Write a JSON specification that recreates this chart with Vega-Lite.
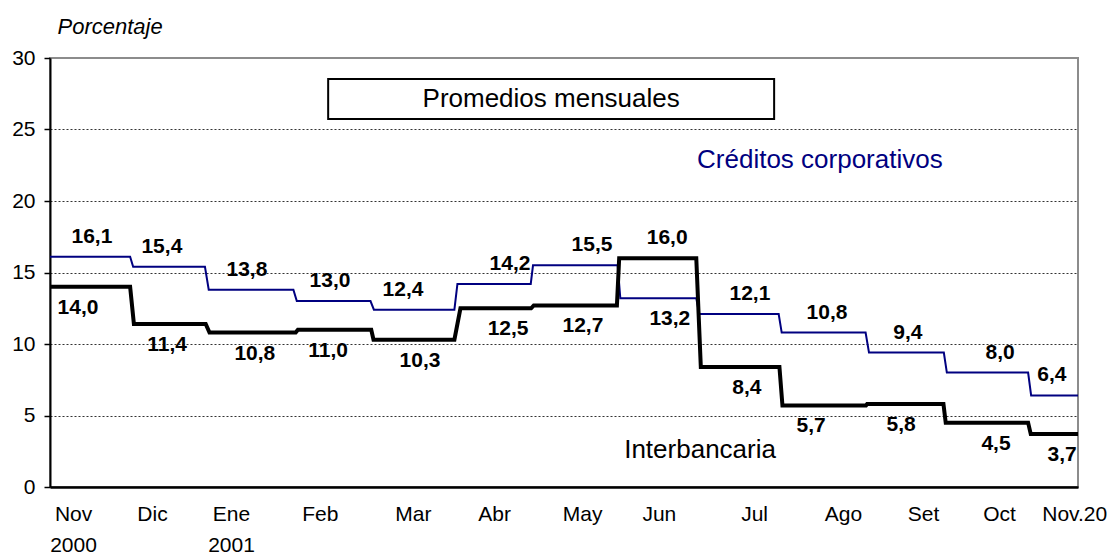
{
  "$schema": "https://vega.github.io/schema/vega-lite/v6.json",
  "width": 1028,
  "height": 429,
  "autosize": {"type": "none"},
  "padding": {"left": 50, "top": 58, "right": 32, "bottom": 69},
  "background": "white",
  "config": {
    "font": "Liberation Sans",
    "view": {"stroke": "#8c8c8c", "strokeWidth": 2},
    "locale": {"number": {"decimal": ",", "thousands": ".", "grouping": [3], "currency": ["", ""]}}
  },
  "datasets": {
    "lineas": [
      {"serie": "Créditos corporativos", "t": 0, "tasa": 16.1},
      {"serie": "Créditos corporativos", "t": 21.2, "tasa": 16.1},
      {"serie": "Créditos corporativos", "t": 22.0, "tasa": 15.4},
      {"serie": "Créditos corporativos", "t": 41.0, "tasa": 15.4},
      {"serie": "Créditos corporativos", "t": 42.0, "tasa": 13.8},
      {"serie": "Créditos corporativos", "t": 64.4, "tasa": 13.8},
      {"serie": "Créditos corporativos", "t": 65.3, "tasa": 13.0},
      {"serie": "Créditos corporativos", "t": 84.8, "tasa": 13.0},
      {"serie": "Créditos corporativos", "t": 85.7, "tasa": 12.4},
      {"serie": "Créditos corporativos", "t": 107.0, "tasa": 12.4},
      {"serie": "Créditos corporativos", "t": 107.8, "tasa": 14.2},
      {"serie": "Créditos corporativos", "t": 127.2, "tasa": 14.2},
      {"serie": "Créditos corporativos", "t": 127.8, "tasa": 15.5},
      {"serie": "Créditos corporativos", "t": 150.2, "tasa": 15.5},
      {"serie": "Créditos corporativos", "t": 150.9, "tasa": 13.2},
      {"serie": "Créditos corporativos", "t": 171.0, "tasa": 13.2},
      {"serie": "Créditos corporativos", "t": 171.8, "tasa": 12.1},
      {"serie": "Créditos corporativos", "t": 192.8, "tasa": 12.1},
      {"serie": "Créditos corporativos", "t": 193.6, "tasa": 10.8},
      {"serie": "Créditos corporativos", "t": 215.8, "tasa": 10.8},
      {"serie": "Créditos corporativos", "t": 216.7, "tasa": 9.4},
      {"serie": "Créditos corporativos", "t": 236.5, "tasa": 9.4},
      {"serie": "Créditos corporativos", "t": 237.3, "tasa": 8.0},
      {"serie": "Créditos corporativos", "t": 258.8, "tasa": 8.0},
      {"serie": "Créditos corporativos", "t": 259.6, "tasa": 6.4},
      {"serie": "Créditos corporativos", "t": 272, "tasa": 6.4},
      {"serie": "Interbancaria", "t": 0, "tasa": 14.0},
      {"serie": "Interbancaria", "t": 21.2, "tasa": 14.0},
      {"serie": "Interbancaria", "t": 22.2, "tasa": 11.4},
      {"serie": "Interbancaria", "t": 41.2, "tasa": 11.4},
      {"serie": "Interbancaria", "t": 42.2, "tasa": 10.8},
      {"serie": "Interbancaria", "t": 65.0, "tasa": 10.8},
      {"serie": "Interbancaria", "t": 65.6, "tasa": 11.0},
      {"serie": "Interbancaria", "t": 85.0, "tasa": 11.0},
      {"serie": "Interbancaria", "t": 85.6, "tasa": 10.3},
      {"serie": "Interbancaria", "t": 107.0, "tasa": 10.3},
      {"serie": "Interbancaria", "t": 108.6, "tasa": 12.5},
      {"serie": "Interbancaria", "t": 127.3, "tasa": 12.5},
      {"serie": "Interbancaria", "t": 128.0, "tasa": 12.7},
      {"serie": "Interbancaria", "t": 150.0, "tasa": 12.7},
      {"serie": "Interbancaria", "t": 150.6, "tasa": 16.0},
      {"serie": "Interbancaria", "t": 171.0, "tasa": 16.0},
      {"serie": "Interbancaria", "t": 172.2, "tasa": 8.4},
      {"serie": "Interbancaria", "t": 193.0, "tasa": 8.4},
      {"serie": "Interbancaria", "t": 193.8, "tasa": 5.7},
      {"serie": "Interbancaria", "t": 215.9, "tasa": 5.7},
      {"serie": "Interbancaria", "t": 216.2, "tasa": 5.8},
      {"serie": "Interbancaria", "t": 236.4, "tasa": 5.8},
      {"serie": "Interbancaria", "t": 237.0, "tasa": 4.5},
      {"serie": "Interbancaria", "t": 258.8, "tasa": 4.5},
      {"serie": "Interbancaria", "t": 259.5, "tasa": 3.7},
      {"serie": "Interbancaria", "t": 272, "tasa": 3.7}
    ],
    "etiquetas": [
      {"serie": "Créditos corporativos", "mes": "Nov", "t": 11.1, "tasa": 16.1, "lado": "arriba"},
      {"serie": "Créditos corporativos", "mes": "Dic", "t": 29.6, "tasa": 15.4, "lado": "arriba"},
      {"serie": "Créditos corporativos", "mes": "Ene", "t": 52.1, "tasa": 13.8, "lado": "arriba"},
      {"serie": "Créditos corporativos", "mes": "Feb", "t": 74.1, "tasa": 13.0, "lado": "arriba"},
      {"serie": "Créditos corporativos", "mes": "Mar", "t": 93.4, "tasa": 12.4, "lado": "arriba"},
      {"serie": "Créditos corporativos", "mes": "Abr", "t": 121.7, "tasa": 14.2, "lado": "arriba"},
      {"serie": "Créditos corporativos", "mes": "May", "t": 143.4, "tasa": 15.5, "lado": "arriba"},
      {"serie": "Créditos corporativos", "mes": "Jun", "t": 164.0, "tasa": 13.2, "lado": "abajo"},
      {"serie": "Créditos corporativos", "mes": "Jul", "t": 185.2, "tasa": 12.1, "lado": "arriba"},
      {"serie": "Créditos corporativos", "mes": "Ago", "t": 205.6, "tasa": 10.8, "lado": "arriba"},
      {"serie": "Créditos corporativos", "mes": "Set", "t": 227.0, "tasa": 9.4, "lado": "arriba"},
      {"serie": "Créditos corporativos", "mes": "Oct", "t": 251.4, "tasa": 8.0, "lado": "arriba"},
      {"serie": "Créditos corporativos", "mes": "Nov", "t": 265.1, "tasa": 6.4, "lado": "arriba"},
      {"serie": "Interbancaria", "mes": "Nov", "t": 7.4, "tasa": 14.0, "lado": "abajo"},
      {"serie": "Interbancaria", "mes": "Dic", "t": 31.0, "tasa": 11.4, "lado": "abajo"},
      {"serie": "Interbancaria", "mes": "Ene", "t": 54.2, "tasa": 10.8, "lado": "abajo"},
      {"serie": "Interbancaria", "mes": "Feb", "t": 73.6, "tasa": 11.0, "lado": "abajo"},
      {"serie": "Interbancaria", "mes": "Mar", "t": 97.9, "tasa": 10.3, "lado": "abajo"},
      {"serie": "Interbancaria", "mes": "Abr", "t": 121.2, "tasa": 12.5, "lado": "abajo"},
      {"serie": "Interbancaria", "mes": "May", "t": 141.0, "tasa": 12.7, "lado": "abajo"},
      {"serie": "Interbancaria", "mes": "Jun", "t": 163.3, "tasa": 16.0, "lado": "arriba"},
      {"serie": "Interbancaria", "mes": "Jul", "t": 184.4, "tasa": 8.4, "lado": "abajo"},
      {"serie": "Interbancaria", "mes": "Ago", "t": 201.4, "tasa": 5.7, "lado": "abajo"},
      {"serie": "Interbancaria", "mes": "Set", "t": 225.2, "tasa": 5.8, "lado": "abajo"},
      {"serie": "Interbancaria", "mes": "Oct", "t": 250.3, "tasa": 4.5, "lado": "abajo"},
      {"serie": "Interbancaria", "mes": "Nov", "t": 267.8, "tasa": 3.7, "lado": "abajo"}
    ]
  },
  "layer": [
    {
      "encoding": {
        "x": {
          "field": "t",
          "type": "quantitative",
          "scale": {"domain": [0, 272], "nice": false, "zero": false},
          "axis": {
            "title": null,
            "values": [6.1, 27, 47.9, 71.4, 96, 117.5, 140.8, 161.1, 186.3, 209.8, 231, 251.1, 271],
            "labelExpr": "[['Nov','2000'],'Dic',['Ene','2001'],'Feb','Mar','Abr','May','Jun','Jul','Ago','Set','Oct','Nov.20'][indexof([6.1, 27, 47.9, 71.4, 96, 117.5, 140.8, 161.1, 186.3, 209.8, 231, 251.1, 271], datum.value)]",
            "grid": false,
            "ticks": false,
            "domainColor": "#000000",
            "domainWidth": 2.5,
            "labelFontSize": 21,
            "labelColor": "#000000",
            "labelPadding": 16,
            "labelBaseline": "top",
            "labelLineHeight": 31,
            "labelFlush": false,
            "labelOverlap": false,
            "labelBound": false
          }
        },
        "y": {
          "field": "tasa",
          "type": "quantitative",
          "scale": {"domain": [0, 30], "nice": false},
          "axis": {
            "title": "Porcentaje",
            "titleAngle": 0,
            "titleAlign": "left",
            "titleBaseline": "alphabetic",
            "titleX": 7,
            "titleY": -25,
            "titleFontSize": 22,
            "titleFontStyle": "italic",
            "titleFontWeight": "normal",
            "titleColor": "#000000",
            "values": [0, 5, 10, 15, 20, 25, 30],
            "grid": true,
            "gridColor": "#000000",
            "gridDash": [2, 2],
            "gridWidth": 1,
            "gridOpacity": {"condition": {"test": "datum.value === 0 || datum.value === 30", "value": 0}, "value": 0.8},
            "tickSize": 6,
            "tickColor": "#000000",
            "tickWidth": 1.5,
            "domainColor": "#000000",
            "domainWidth": 2,
            "labelFontSize": 21,
            "labelColor": "#000000",
            "labelPadding": 9,
            "labelFlush": false
          }
        }
      },
      "layer": [
        {
          "data": {"name": "lineas"},
          "transform": [{"filter": "datum.serie === 'Créditos corporativos'"}],
          "mark": {"type": "line", "color": "#000080", "strokeWidth": 2, "interpolate": "linear"}
        },
        {
          "data": {"name": "lineas"},
          "transform": [{"filter": "datum.serie === 'Interbancaria'"}],
          "mark": {"type": "line", "color": "#000000", "strokeWidth": 4, "interpolate": "linear"}
        },
        {
          "data": {"name": "etiquetas"},
          "transform": [{"filter": "datum.lado === 'arriba'"}],
          "mark": {"type": "text", "fontSize": 21, "fontWeight": "bold", "color": "#000000", "baseline": "middle", "align": "center", "dy": -20},
          "encoding": {"text": {"field": "tasa", "type": "quantitative", "format": ".1f"}}
        },
        {
          "data": {"name": "etiquetas"},
          "transform": [{"filter": "datum.lado === 'abajo'"}],
          "mark": {"type": "text", "fontSize": 21, "fontWeight": "bold", "color": "#000000", "baseline": "middle", "align": "center", "dy": 21},
          "encoding": {"text": {"field": "tasa", "type": "quantitative", "format": ".1f"}}
        }
      ]
    },
    {
      "data": {"values": [{"texto": "Promedios mensuales"}]},
      "mark": {"type": "rect", "fill": "#ffffff", "stroke": "#000000", "strokeWidth": 2},
      "encoding": {
        "x": {"datum": 73.6, "type": "quantitative"},
        "x2": {"datum": 191.6},
        "y": {"datum": 28.53, "type": "quantitative"},
        "y2": {"datum": 25.73}
      }
    },
    {
      "data": {"values": [{"texto": "Promedios mensuales"}]},
      "mark": {"type": "text", "fontSize": 26, "color": "#000000", "baseline": "middle", "align": "center"},
      "encoding": {
        "x": {"datum": 132.6, "type": "quantitative"},
        "y": {"datum": 27.13, "type": "quantitative"},
        "text": {"field": "texto"}
      }
    },
    {
      "data": {"values": [{"texto": "Créditos corporativos"}]},
      "mark": {"type": "text", "fontSize": 26, "color": "#000080", "baseline": "middle", "align": "center"},
      "encoding": {
        "x": {"datum": 203.7, "type": "quantitative"},
        "y": {"datum": 22.87, "type": "quantitative"},
        "text": {"field": "texto"}
      }
    },
    {
      "data": {"values": [{"texto": "Interbancaria"}]},
      "mark": {"type": "text", "fontSize": 26, "color": "#000000", "baseline": "middle", "align": "center"},
      "encoding": {
        "x": {"datum": 172, "type": "quantitative"},
        "y": {"datum": 2.59, "type": "quantitative"},
        "text": {"field": "texto"}
      }
    }
  ]
}
